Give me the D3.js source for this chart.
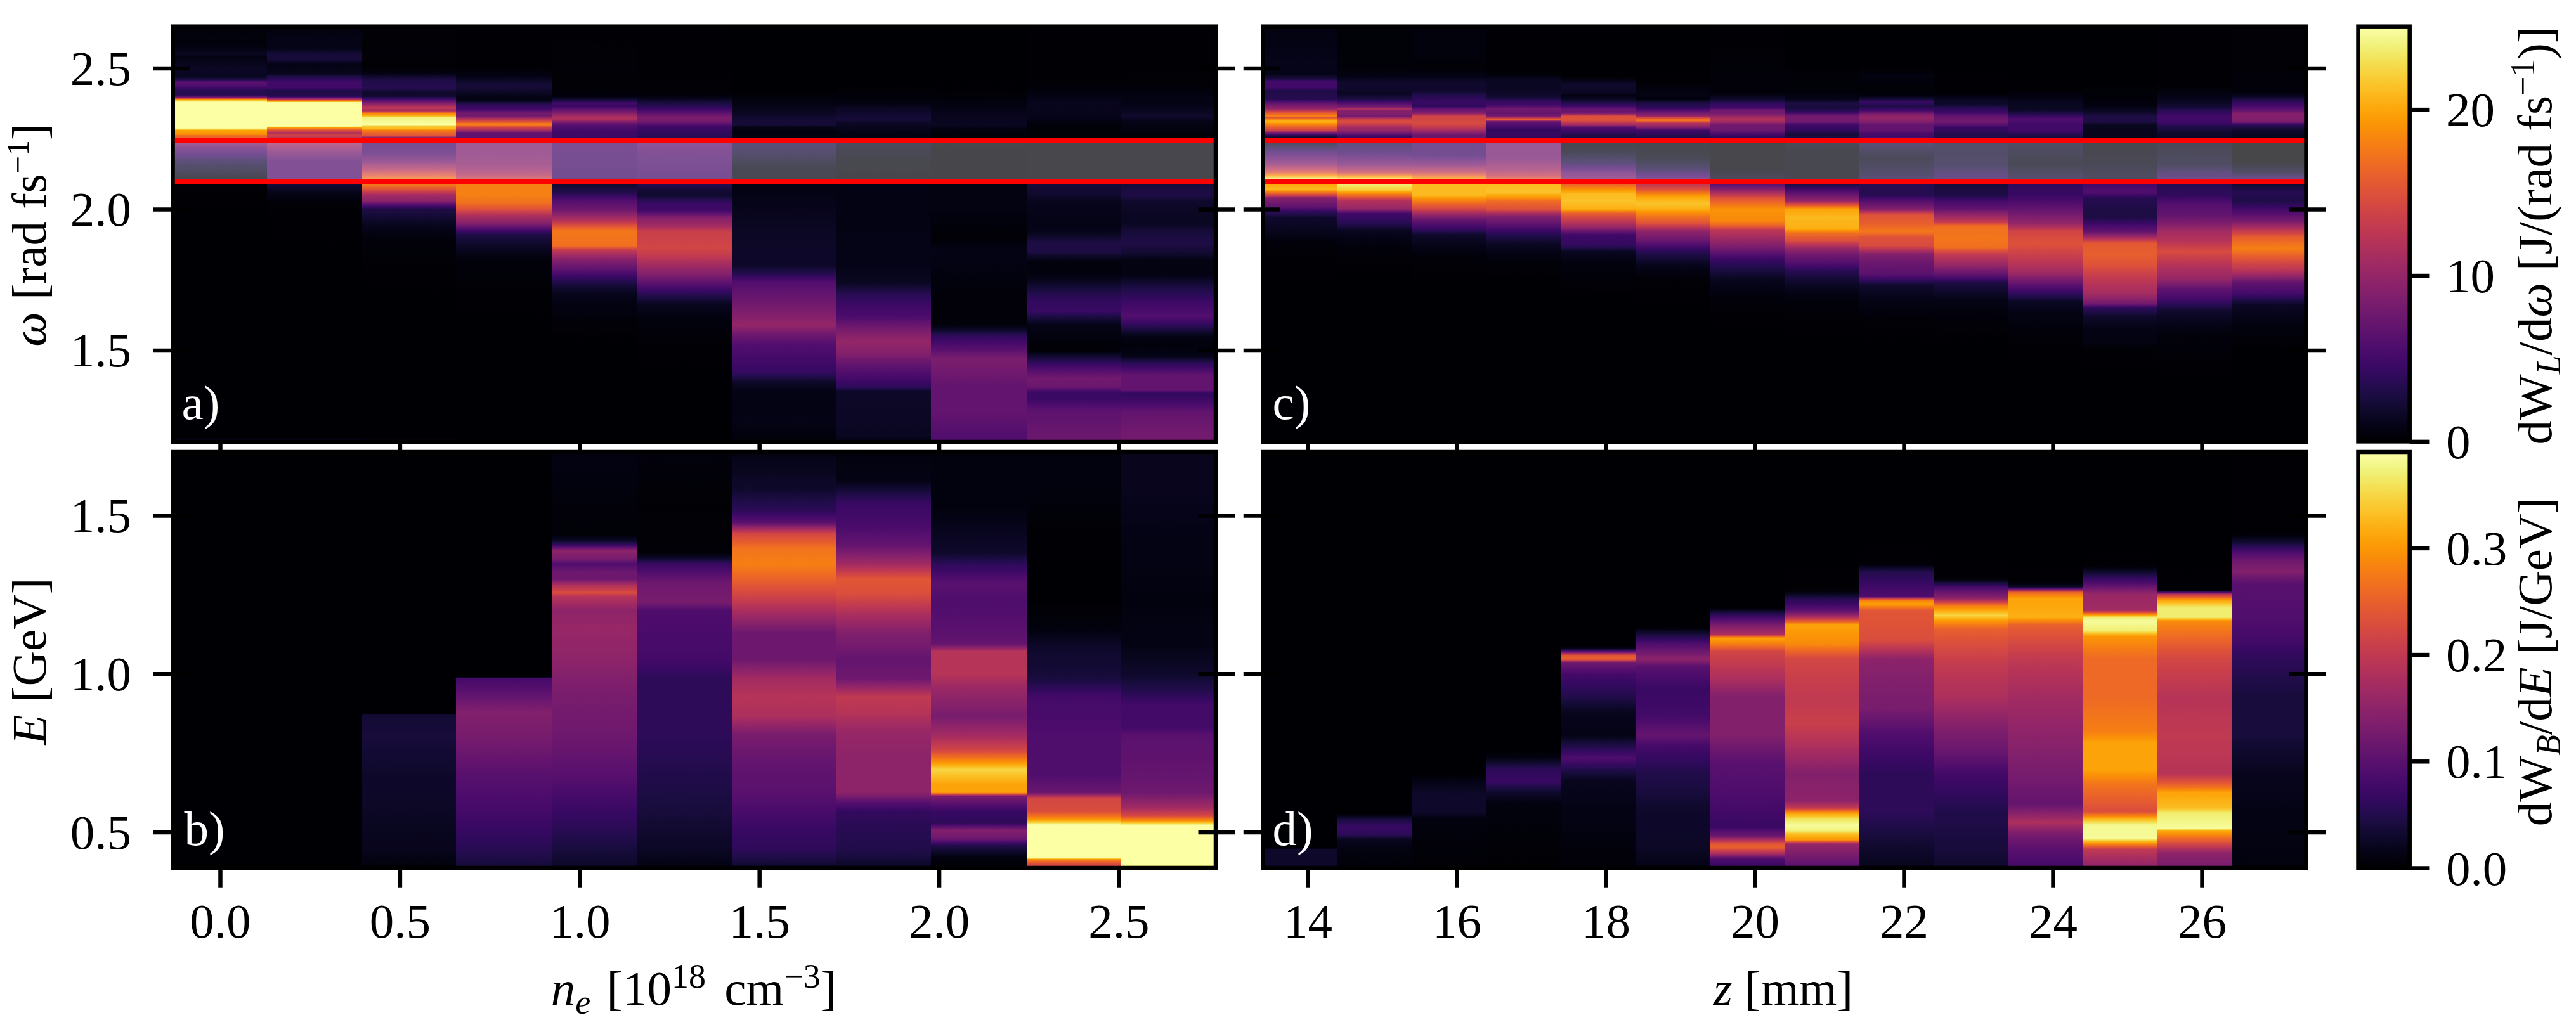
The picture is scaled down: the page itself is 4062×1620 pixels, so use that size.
<!DOCTYPE html>
<html><head><meta charset="utf-8">
<script src="https://cdn.jsdelivr.net/npm/d3@7/dist/d3.min.js"></script>
<style>html,body{margin:0;padding:0;background:#fff}svg{display:block}text{font-family:"Liberation Serif",serif;fill:#000}</style>
</head><body><svg id="c" width="4062" height="1620"></svg>
<script>
const neEdges=[-0.126,0.13,0.396,0.657,0.922,1.161,1.424,1.715,1.978,2.244,2.505,2.768];
const zEdges=[13.4,14.4,15.4,16.4,17.4,18.4,19.4,20.4,21.4,22.4,23.4,24.4,25.4,26.4,27.4];
const neTicks=[0,0.5,1,1.5,2,2.5];
const zTicks=[14,16,18,20,22,24,26];
const omegaTicks=[1.5,2,2.5];
const energyTicks=[0.5,1,1.5];
const laserBarTicks=[0,10,20];
const beamBarTicks=[0,0.1,0.2,0.3];
const band=[2.097,2.245];

// each column: omega, dW/domega, omega, dW/domega, ...
const laserVsDensity=[
[2.64,.4,2.58,.6,2.55,1.5,2.54,.8,2.50,1.6,2.47,1.5,2.46,3,2.45,6.5,2.44,6,2.42,3.5,2.405,3.5,2.395,9,2.39,19,2.38,25,2.375,30,2.295,30,2.285,24,2.28,20,2.265,19,2.26,16,2.25,17,2.245,10,2.22,7,2.17,3,2.105,.6,2.09,.3,2.0,.05,1.19,0,1.18,1.5],
[2.64,.6,2.60,1,2.57,1,2.55,2.5,2.53,2.5,2.515,1,2.50,1,2.48,1.3,2.47,3,2.45,5,2.43,5,2.42,3,2.40,3.5,2.395,7,2.385,17,2.38,22,2.377,30,2.295,30,2.292,21,2.28,15,2.27,12,2.26,14,2.25,11,2.24,11.5,2.2,8,2.17,6,2.10,6,2.09,2.5,2.05,.8,2.0,.1,1.19,0,1.18,1.5],
[2.64,.2,2.55,.3,2.5,.1,2.48,1,2.46,3,2.43,3.5,2.415,2,2.40,2,2.39,5,2.375,9,2.36,13,2.35,11,2.34,18,2.33,21,2.325,24,2.30,25,2.295,22,2.285,21,2.28,18,2.26,15,2.255,10,2.245,9,2.24,5,2.20,5.5,2.17,8,2.14,12,2.11,17,2.10,19,2.09,18,2.07,15,2.05,11,2.03,9.5,2.015,6,2.0,3,1.98,2.5,1.95,1.5,1.9,.5,1.8,.1,1.19,0,1.18,1],
[2.64,.1,2.58,.2,2.55,.1,2.50,.1,2.47,1,2.44,2.5,2.42,2,2.40,1,2.385,1,2.37,4,2.355,5,2.34,8,2.33,8,2.32,12,2.31,15,2.305,17,2.30,18,2.29,14,2.28,11,2.27,7,2.25,6.5,2.24,8.5,2.2,8.5,2.15,9.5,2.12,12,2.10,15,2.09,18,2.05,18,2.02,17,2.0,15,1.98,12,1.95,9,1.93,6,1.91,3,1.88,2,1.82,.5,1.7,.1,1.175,0],
[2.64,.1,2.5,.3,2.45,.2,2.40,.5,2.385,3,2.375,5,2.365,4.5,2.355,6.5,2.345,8,2.33,11,2.32,12,2.31,9,2.30,6.5,2.28,5,2.25,4.5,2.24,5.5,2.15,5,2.10,4.5,2.09,2,2.06,3.2,2.03,6,1.995,8,1.96,12,1.935,16,1.92,17.5,1.87,17,1.855,13,1.82,9,1.79,7,1.76,4.5,1.73,2.5,1.70,1.2,1.6,.3,1.5,0,1.175,0],
[2.64,.1,2.5,.15,2.41,.3,2.395,1,2.38,2.5,2.36,4,2.345,6,2.325,8.5,2.31,8,2.295,5,2.27,4,2.25,3.5,2.24,7,2.2,6,2.1,5,2.09,3.5,2.07,2.5,2.05,2,2.02,4.5,1.995,5,1.97,9,1.94,11,1.92,13.5,1.86,14,1.835,13,1.82,12,1.77,9,1.73,6,1.69,3,1.66,1.3,1.6,.6,1.53,.2,1.4,0,1.175,0],
[2.64,0,2.42,0,2.395,.5,2.36,1.2,2.34,1.5,2.33,2,2.30,2.5,2.29,1,2.27,.6,2.25,1,2.24,3,2.2,2.5,2.15,1,2.10,.8,2.09,.8,2.0,1.2,1.95,1.5,1.85,1.8,1.8,1.8,1.77,3.5,1.74,6,1.68,7.5,1.62,9,1.59,10,1.56,8,1.52,6,1.46,5,1.42,4.2,1.39,2,1.36,1,1.30,.9,1.25,1,1.20,.6,1.175,.5],
[2.64,0,2.44,0,2.41,.4,2.38,.6,2.36,1.5,2.34,2,2.32,2.5,2.30,1.5,2.26,.8,2.24,1.5,2.18,.6,2.10,.4,2.09,1,2.0,.9,1.9,1,1.8,1,1.74,1.5,1.7,3.5,1.65,5,1.62,5.5,1.58,8,1.53,10,1.49,9,1.45,7,1.41,5.5,1.37,4,1.355,1.8,1.2,1.5,1.175,1],
[2.64,0,2.42,.1,2.38,.6,2.34,1.2,2.30,1.5,2.28,.6,2.25,.4,2.24,.3,2.10,.2,2.09,.8,2.0,.8,1.9,.2,1.85,1,1.8,.8,1.72,.5,1.65,.4,1.59,.5,1.57,2,1.55,4,1.5,6.5,1.47,8.5,1.43,8,1.40,7.5,1.37,7,1.34,7,1.28,7,1.2,6,1.175,6],
[2.64,.1,2.46,.1,2.40,.8,2.385,1.2,2.36,1.3,2.32,1.1,2.30,.4,2.25,.2,2.24,.3,2.10,.3,2.09,2.5,2.05,2,2.03,1.3,1.98,1,1.93,1,1.91,1.5,1.88,3,1.85,3,1.83,1.6,1.81,.5,1.76,.8,1.72,2.5,1.68,4,1.64,4.5,1.62,3,1.59,1,1.5,.2,1.48,2,1.45,4.5,1.40,8,1.37,7.5,1.35,4.5,1.33,4.5,1.29,6.5,1.2,7.5,1.175,7.5],
[2.64,.1,2.45,.2,2.40,.8,2.37,1,2.345,1.5,2.33,2,2.31,1,2.25,.3,2.24,.4,2.10,.4,2.09,2.5,2.05,3,2.03,2,1.98,1.5,1.95,1.5,1.92,2.5,1.88,3,1.84,2,1.82,.8,1.77,.8,1.72,3,1.66,5,1.62,6,1.59,4,1.55,1,1.52,.5,1.48,1,1.45,4,1.41,7,1.36,7,1.345,4,1.32,5,1.28,7,1.2,8,1.175,8]
];
const laserVsLength=[
[2.64,.8,2.55,1,2.50,1.2,2.48,1,2.46,3,2.455,5,2.43,5,2.42,3,2.39,3.5,2.38,6,2.37,8,2.355,10,2.35,12.5,2.343,15,2.335,17,2.33,18.5,2.325,15,2.315,20,2.31,21,2.30,18,2.29,16,2.28,14,2.27,8,2.26,3,2.25,1.5,2.24,1,2.20,5,2.16,9,2.13,15,2.11,23,2.10,27,2.09,20,2.07,21,2.05,14,2.04,9,2.01,7,1.99,4,1.97,2,1.92,1.2,1.88,.4,1.8,.1,1.5,0,1.175,0],
[2.64,.3,2.5,.4,2.47,1,2.45,2,2.43,2,2.41,1.5,2.39,3,2.38,5,2.37,7,2.36,9,2.355,12,2.35,9,2.34,9,2.33,8,2.32,13,2.31,15,2.30,13,2.29,11,2.28,10,2.27,8,2.26,5,2.25,4,2.24,3,2.2,4.5,2.16,8,2.13,13,2.11,22,2.10,25,2.09,24,2.068,22,2.05,17,2.03,12,2.0,10,1.985,5,1.95,3.5,1.92,1.3,1.87,.5,1.8,.1,1.6,0,1.175,0],
[2.64,.5,2.55,.6,2.50,.2,2.47,1,2.45,2,2.42,2,2.40,3.5,2.38,4.5,2.365,4,2.355,7,2.34,9,2.33,14,2.32,14,2.305,14.5,2.29,13,2.28,11,2.27,9,2.26,7,2.25,8,2.24,4.5,2.19,5,2.16,8,2.13,13,2.11,19,2.10,21,2.09,21,2.05,21,2.03,18,2.0,14,1.98,10,1.96,7,1.93,4.5,1.91,2,1.87,1,1.82,.3,1.7,0,1.175,0],
[2.64,.1,2.5,.1,2.48,.2,2.46,1.5,2.43,1.5,2.40,2,2.38,4.5,2.37,5,2.355,8,2.34,7,2.33,8,2.325,12,2.318,16,2.31,7,2.30,6,2.28,4,2.26,4.5,2.25,3,2.24,8,2.18,8,2.14,10.5,2.12,13,2.10,17,2.09,21,2.06,21.5,2.04,19,2.03,17,2.0,15,1.975,9,1.95,7,1.91,3.5,1.88,1.7,1.85,1,1.8,.3,1.7,0,1.175,0],
[2.64,.1,2.50,0,2.47,.2,2.44,2,2.41,1.5,2.405,.7,2.39,1.5,2.375,3.5,2.365,5,2.355,7,2.345,7.5,2.34,8,2.33,15,2.315,15,2.30,11,2.29,6,2.28,5,2.26,3,2.25,3,2.24,.5,2.20,1.2,2.16,3.5,2.13,7,2.10,9.5,2.09,16,2.07,19,2.055,21,2.03,21.5,2.0,20.5,1.985,16,1.96,13,1.935,10,1.91,5,1.87,4,1.85,1.5,1.8,.5,1.7,.1,1.6,0,1.175,0],
[2.64,0,2.45,.1,2.42,.8,2.40,.8,2.39,.5,2.38,2.5,2.36,4,2.345,7,2.33,10,2.325,14,2.315,18,2.305,12,2.29,9,2.28,5,2.26,3.5,2.25,3,2.24,.5,2.18,1,2.14,3,2.11,6,2.09,12.5,2.07,15,2.045,20,2.02,21.5,2.0,20.5,1.98,18,1.95,15,1.92,9.5,1.89,7.5,1.86,4.5,1.84,3,1.8,1.2,1.75,.2,1.6,0,1.175,0],
[2.64,.1,2.45,.4,2.41,.5,2.39,2,2.375,4,2.36,5,2.35,8,2.34,8,2.33,10,2.32,12,2.31,11,2.30,8,2.28,7.5,2.26,4.5,2.25,3,2.24,.3,2.14,.4,2.10,1.8,2.09,6,2.07,9,2.04,15,2.02,17,2.0,19,1.96,18.5,1.94,16,1.925,12.5,1.90,11,1.86,8,1.85,7,1.82,4.5,1.79,3,1.75,1.4,1.68,.4,1.6,.1,1.5,0,1.175,0],
[2.64,0,2.50,0,2.47,.4,2.42,.3,2.405,.8,2.39,1,2.375,3,2.36,2.5,2.345,4,2.33,8,2.31,8,2.30,5,2.28,4,2.265,2.5,2.25,3,2.24,1.2,2.2,.6,2.14,.6,2.1,.8,2.09,2.5,2.07,5,2.05,7.5,2.03,10,2.015,15,2.0,20,1.97,21,1.93,20.5,1.915,17,1.89,15,1.86,10,1.84,8,1.81,6,1.78,3.5,1.73,1.5,1.68,.5,1.6,.1,1.175,0],
[2.64,0,2.50,.1,2.47,.8,2.44,.3,2.405,.4,2.39,2.5,2.38,4.5,2.365,3,2.35,5,2.335,9,2.325,10,2.31,9,2.30,7,2.28,7,2.27,5.5,2.25,5,2.24,3,2.18,1.2,2.12,2.5,2.10,3.5,2.09,3.5,2.05,3.5,2.03,6,2.0,9,1.98,15,1.95,16,1.92,17.5,1.90,15,1.87,14.5,1.84,9,1.81,7.5,1.77,6.5,1.73,2,1.68,1,1.6,.2,1.5,0,1.175,0],
[2.64,0,2.47,.1,2.45,.1,2.41,.1,2.39,1.5,2.37,2,2.36,3.5,2.34,5,2.33,7,2.31,8,2.29,4.5,2.27,3.5,2.25,3,2.24,2,2.16,2.4,2.10,4.5,2.09,2.5,2.05,3,2.03,5,2.0,7,1.98,10,1.955,13,1.94,17,1.9,17.5,1.865,17,1.84,13,1.80,10,1.76,6,1.74,3,1.68,1,1.6,.3,1.5,0,1.175,0],
[2.64,0,2.43,.1,2.40,.8,2.375,1.5,2.355,1.5,2.335,3.5,2.32,6,2.30,5,2.28,5,2.26,3,2.25,2.5,2.24,2,2.16,1,2.10,2.8,2.09,4,2.05,4.5,2.02,6,2.0,7,1.95,10,1.92,14,1.88,15,1.85,14,1.78,11,1.73,6.5,1.70,4,1.67,1.5,1.62,.8,1.5,.1,1.175,0],
[2.64,0,2.45,0,2.42,.3,2.38,.5,2.36,1,2.34,2,2.33,3,2.31,3,2.30,1.5,2.25,1.2,2.24,.6,2.18,.8,2.10,1.8,2.09,5,2.06,6,2.04,3.5,2.0,3,1.97,3,1.945,5,1.92,7,1.895,12,1.88,15.5,1.84,16,1.80,15,1.76,13,1.70,11,1.665,8,1.65,4,1.62,2,1.58,1,1.53,.8,1.5,.2,1.4,0,1.175,0],
[2.64,.1,2.5,.1,2.44,.1,2.40,1,2.38,1.5,2.36,2.5,2.345,4,2.33,5,2.31,5,2.29,3,2.27,2,2.25,1.8,2.24,1,2.16,1.7,2.10,5,2.09,3.5,2.05,4,2.02,6,1.98,7,1.945,9,1.92,11,1.89,12,1.85,14.5,1.80,12,1.75,10,1.72,7,1.68,5,1.64,2,1.6,1.2,1.55,.5,1.45,.1,1.175,0],
[2.64,.2,2.5,.2,2.47,.5,2.42,.4,2.40,1.5,2.38,4,2.37,5,2.35,7,2.34,9,2.32,9,2.31,8.5,2.30,4,2.28,2,2.26,1.5,2.25,1,2.24,0,2.17,.2,2.13,2,2.10,5.5,2.09,2,2.06,3.5,2.03,3,2.0,5,1.96,8,1.93,12,1.90,16,1.86,18,1.82,15,1.78,12,1.74,7,1.70,5,1.66,1.6,1.6,.8,1.56,.5,1.5,.05,1.175,0]
];
// each column: E, dW/dE, E, dW/dE, ...
const beamVsDensity=[
[1.7,0,.387,0],
[1.7,0,.387,0],
[.879,0,.875,.002,.87,.035,.806,.04,.685,.03,.565,.025,.445,.02,.397,.01],
[.99,0,.985,.08,.926,.11,.878,.14,.806,.13,.685,.10,.565,.08,.445,.055,.397,.04],
[1.694,.012,1.586,.01,1.466,.005,1.44,.005,1.418,.03,1.405,.075,1.388,.15,1.364,.13,1.346,.09,1.322,.12,1.298,.12,1.28,.18,1.256,.23,1.244,.19,1.2,.15,1.14,.16,1.046,.15,.926,.13,.806,.12,.685,.1,.565,.07,.445,.04,.397,.03],
[1.694,.008,1.526,.003,1.382,.005,1.364,.03,1.346,.07,1.286,.12,1.226,.13,1.2,.09,1.046,.08,.985,.06,.806,.06,.685,.05,.565,.04,.445,.025,.397,.015],
[1.694,.015,1.586,.03,1.514,.06,1.478,.1,1.442,.22,1.394,.27,1.346,.28,1.31,.26,1.25,.22,1.19,.17,1.13,.12,1.046,.12,.985,.17,.926,.19,.866,.18,.806,.13,.72,.11,.625,.10,.505,.07,.445,.06,.397,.035],
[1.694,.01,1.61,.015,1.538,.07,1.466,.085,1.405,.11,1.346,.17,1.298,.24,1.25,.23,1.19,.18,1.13,.14,1.046,.11,.985,.12,.926,.2,.878,.19,.818,.16,.745,.15,.625,.15,.595,.1,.565,.065,.505,.055,.445,.05,.397,.03],
[1.694,.01,1.526,.01,1.382,.03,1.346,.06,1.286,.1,1.226,.09,1.14,.1,1.094,.11,1.07,.19,.998,.19,.95,.16,.866,.13,.806,.17,.758,.22,.72,.3,.697,.35,.673,.33,.65,.31,.625,.31,.613,.13,.565,.07,.53,.06,.505,.14,.48,.12,.457,.05,.42,.01,.397,.005],
[1.694,.01,1.586,.01,1.43,.002,1.226,.001,1.14,.01,1.082,.03,.985,.04,.926,.08,.806,.09,.685,.09,.625,.115,.607,.22,.565,.23,.54,.3,.53,.35,.519,.42,.42,.42,.413,.28,.397,.22],
[1.70,.02,1.59,.02,1.43,.015,1.23,.01,1.09,.015,1.0,.03,.95,.05,.9,.08,.83,.08,.806,.1,.685,.11,.625,.12,.577,.17,.553,.22,.535,.3,.523,.38,.517,.42,.40,.42,.392,.36]
];
const beamVsLength=[
[.455,0,.451,.001,.445,.03,.39,.03],
[.559,0,.541,.04,.517,.07,.493,.06,.475,.02,.445,.012,.39,.005],
[.685,0,.661,.015,.613,.03,.565,.03,.54,.01,.39,.003],
[1.7,0,.78,.001,.757,.001,.733,.015,.697,.06,.661,.07,.625,.03,.59,.01,.39,.002],
[1.088,0,1.079,.02,1.07,.1,1.058,.24,1.046,.25,1.034,.12,.998,.08,.926,.05,.878,.02,.806,.015,.77,.05,.733,.09,.697,.05,.661,.02,.565,.015,.39,.005],
[1.148,0,1.13,.03,1.094,.09,1.046,.15,1.022,.1,.95,.07,.866,.08,.806,.11,.77,.08,.685,.05,.565,.03,.445,.025,.39,.015],
[1.208,0,1.19,.05,1.154,.13,1.124,.18,1.112,.31,1.094,.28,1.07,.22,.985,.18,.926,.14,.806,.14,.72,.1,.625,.09,.517,.07,.487,.12,.463,.24,.451,.25,.433,.18,.415,.09,.39,.07],
[1.7,0,1.28,.002,1.26,.005,1.238,.05,1.2,.1,1.178,.18,1.154,.31,1.094,.29,1.046,.22,.926,.2,.842,.21,.77,.18,.685,.14,.6,.15,.577,.2,.559,.31,.541,.36,.523,.385,.505,.375,.493,.33,.475,.3,.463,.16,.39,.1],
[1.7,0,1.36,.002,1.346,.005,1.322,.05,1.286,.07,1.244,.09,1.232,.28,1.22,.31,1.2,.24,1.106,.23,1.046,.15,.985,.14,.89,.13,.806,.09,.685,.06,.565,.06,.445,.03,.39,.02],
[1.7,0,1.31,.002,1.298,.005,1.274,.08,1.238,.15,1.214,.28,1.184,.35,1.166,.3,1.14,.25,1.022,.2,.926,.18,.83,.14,.745,.11,.685,.08,.565,.05,.445,.04,.39,.03],
[1.7,0,1.29,.002,1.274,.03,1.256,.26,1.238,.31,1.178,.32,1.154,.25,1.046,.2,.926,.17,.806,.15,.685,.13,.59,.11,.53,.18,.493,.13,.445,.1,.39,.08],
[1.7,0,1.34,.002,1.322,.03,1.286,.09,1.25,.16,1.2,.17,1.186,.3,1.178,.37,1.166,.385,1.136,.37,1.118,.3,1.046,.26,.926,.26,.818,.28,.782,.31,.697,.31,.65,.27,.565,.23,.54,.33,.523,.38,.48,.385,.469,.32,.445,.2,.39,.15],
[1.7,0,1.27,.002,1.262,.01,1.25,.2,1.232,.31,1.208,.37,1.178,.37,1.166,.29,1.046,.22,.926,.19,.806,.2,.685,.19,.65,.25,.625,.31,.577,.33,.559,.37,.511,.385,.505,.32,.475,.25,.433,.15,.39,.13],
[1.7,.002,1.442,.002,1.418,.03,1.382,.09,1.358,.12,1.322,.14,1.286,.1,1.166,.09,1.106,.08,1.046,.06,.926,.04,.806,.04,.685,.02,.565,.015,.39,.01]
];

const svg=d3.select('#c');
const defs=svg.append('defs');
const FS=77, LW=6.5, TL=27.5;
const LEFT=[272.5,1917], RIGHT=[1991.5,3636.5], TOP=[697,41.7], BOT=[1369,713];
const xNe=d3.scaleLinear().domain([-0.1314,2.770]).range(LEFT);
const xZ=d3.scaleLinear().domain([13.4,27.4]).range(RIGHT);
const yOmega=d3.scaleLinear().domain([1.175,2.648]).range(TOP);
const yE=d3.scaleLinear().domain([.387,1.7]).range(BOT);
const cLaser=d3.scaleSequential(d3.interpolateInferno).domain([0,25]).clamp(true);
const cBeam=d3.scaleSequential(d3.interpolateInferno).domain([0,.39]).clamp(true);

let gid=0;
function heat(g,cols,edges,x,y,c){
  const [b,t]=y.range();
  const span=b-t;
  cols.forEach((col,i)=>{
    const id='g'+(gid++);
    const lg=defs.append('linearGradient').attr('id',id).attr('gradientUnits','userSpaceOnUse')
      .attr('x1',0).attr('x2',0).attr('y1',t).attr('y2',b);
    const pts=d3.range(0,col.length,2).map(k=>[col[k],col[k+1]]).sort((p,q)=>q[0]-p[0]);
    const add=(w,v)=>lg.append('stop').attr('offset',(y(w)-t)/span).attr('stop-color',c(v));
    // colour follows the colour map between the stops that were read
    pts.forEach((p,k)=>{
      add(p[0],p[1]);
      if(k<pts.length-1){
        const q=pts[k+1];
        [.25,.5,.75].forEach(f=>add(p[0]+(q[0]-p[0])*f,p[1]+(q[1]-p[1])*f));
      }
    });
    g.append('rect').attr('x',x(edges[i])).attr('width',x(edges[i+1])-x(edges[i]))
      .attr('y',t).attr('height',span).attr('fill',`url(#${id})`).attr('shape-rendering','crispEdges');
  });
}
function frame(g,x,y){
  const [l,r]=x.range(),[b,t]=y.range();
  g.append('rect').attr('x',l).attr('y',t).attr('width',r-l).attr('height',b-t)
    .attr('fill','none').attr('stroke','#000').attr('stroke-width',LW);
}
function styleAxis(a,labels){
  a.select('.domain').remove();
  a.selectAll('line').attr('stroke','#000').attr('stroke-width',LW);
  a.selectAll('text').attr('font-size',FS).style('font-family','"Liberation Serif",serif').attr('fill','#000');
  if(!labels) a.selectAll('text').remove();
}
function panel(cols,edges,x,y,c,xt,yt,yfmt,xfmt,labY,lab,showX,showY,hasBand){
  const g=svg.append('g');
  const [l,r]=x.range(),[b,t]=y.range();
  g.append('rect').attr('x',l).attr('y',t).attr('width',r-l).attr('height',b-t).attr('fill','#000');
  heat(g,cols,edges,x,y,c);
  if(hasBand){
    g.append('rect').attr('x',l).attr('width',r-l).attr('y',y(band[1])).attr('height',y(band[0])-y(band[1]))
      .attr('fill','#fff').attr('fill-opacity',.28);
    band.forEach(w=>g.append('line').attr('x1',l).attr('x2',r).attr('y1',y(w)).attr('y2',y(w))
      .attr('stroke','#ff0000').attr('stroke-width',8));
  }
  const ax=g.append('g').attr('transform',`translate(0,${b})`).call(d3.axisBottom(x).tickValues(xt).tickFormat(xfmt).tickSize(TL+LW/2));
  styleAxis(ax,showX);
  ax.selectAll('text').attr('y',110).attr('dy',0);
  const al=g.append('g').attr('transform',`translate(${l},0)`).call(d3.axisLeft(y).tickValues(yt).tickFormat(yfmt).tickSize(TL+LW/2));
  styleAxis(al,showY);
  al.selectAll('line').attr('x1',TL);
  al.selectAll('text').attr('x',-65.5).attr('dy',25.5);
  const ar=g.append('g').attr('transform',`translate(${r},0)`).call(d3.axisRight(y).tickValues(yt).tickSize(TL+LW/2));
  styleAxis(ar,false);
  ar.selectAll('line').attr('x1',-TL);
  frame(g,x,y);
  g.append('text').attr('x',l+lab[0]).attr('y',labY).attr('font-size',FS).style('fill','#fff').text(lab[1]);
}
const f1=d3.format('.1f'), f0=d3.format('d');
panel(laserVsDensity,neEdges,xNe,yOmega,cLaser,neTicks,omegaTicks,f1,f1,661,[14,'a)'],false,true,true);
panel(laserVsLength,zEdges,xZ,yOmega,cLaser,zTicks,omegaTicks,f1,f0,661,[15,'c)'],false,false,true);
panel(beamVsDensity,neEdges,xNe,yE,cBeam,neTicks,energyTicks,f1,f1,1333,[18,'b)'],true,true,false);
panel(beamVsLength,zEdges,xZ,yE,cBeam,zTicks,energyTicks,f1,f0,1333,[15,'d)'],true,false,false);

function rich(sel,parts,supRatio){
  let shift=0;
  parts.forEach(p=>{
    const want=p.sup?-27:p.sub?14:0;
    const ts=sel.append('tspan').text(p.t).attr('dy',want-shift);
    shift=want;
    if(p.dx) ts.attr('dx',p.dx);
    if(p.i) ts.attr('font-style','italic');
    if(p.sup||p.sub) ts.attr('font-size',FS*supRatio);
  });
}
function label(x,y,rot,parts,supRatio=.7){
  const s=svg.append('text').attr('font-size',FS).attr('text-anchor','middle')
    .attr('transform',`translate(${x},${y})`+(rot?' rotate(-90)':''));
  rich(s,parts,supRatio);
}
label(1094,1585,false,[{t:'n',i:1},{t:'e',i:1,sub:1},{t:' [10',dx:6},{t:'18',sup:1},{t:' cm',dx:10},{t:'−3',sup:1},{t:']'}]);
label(2812,1585,false,[{t:'z',i:1},{t:' [mm]'}]);
label(72,371,true,[{t:'ω',i:1},{t:' [rad fs'},{t:'−1',sup:1},{t:']'}],.65);
label(72,1043,true,[{t:'E',i:1},{t:' [GeV]'}]);
label(4023,372,true,[{t:'dW'},{t:'L',i:1,sub:1},{t:'/d'},{t:'ω',i:1},{t:' [J/(rad fs'},{t:'−1',sup:1},{t:')]'}]);
label(4023,1044,true,[{t:'dW'},{t:'B',i:1,sub:1},{t:'/d'},{t:'E',i:1},{t:' [J/GeV]'}]);

function colorbar(y,c,ticks,fmt,id){
  const [b,t]=y.range(), L=3718.5, R=3799.7;
  const lg=defs.append('linearGradient').attr('id',id).attr('gradientUnits','userSpaceOnUse')
    .attr('x1',0).attr('x2',0).attr('y1',b).attr('y2',t);
  d3.range(0,1.0001,1/64).forEach(f=>lg.append('stop').attr('offset',f).attr('stop-color',d3.interpolateInferno(f)));
  svg.append('rect').attr('x',L).attr('y',t).attr('width',R-L).attr('height',b-t).attr('fill',`url(#${id})`)
    .attr('stroke','#000').attr('stroke-width',LW);
  const a=svg.append('g').attr('transform',`translate(${R},0)`).call(d3.axisRight(y).tickValues(ticks).tickFormat(fmt).tickSize(TL+LW/2));
  styleAxis(a,true);
  a.selectAll('text').attr('x',3857-R).attr('dy',26);
}
colorbar(d3.scaleLinear().domain([0,25]).range([696.4,41.7]),cLaser,laserBarTicks,f0,'cbL');
colorbar(d3.scaleLinear().domain([0,.39]).range([1369,713]),cBeam,beamBarTicks,f1,'cbB');
</script></body></html>
